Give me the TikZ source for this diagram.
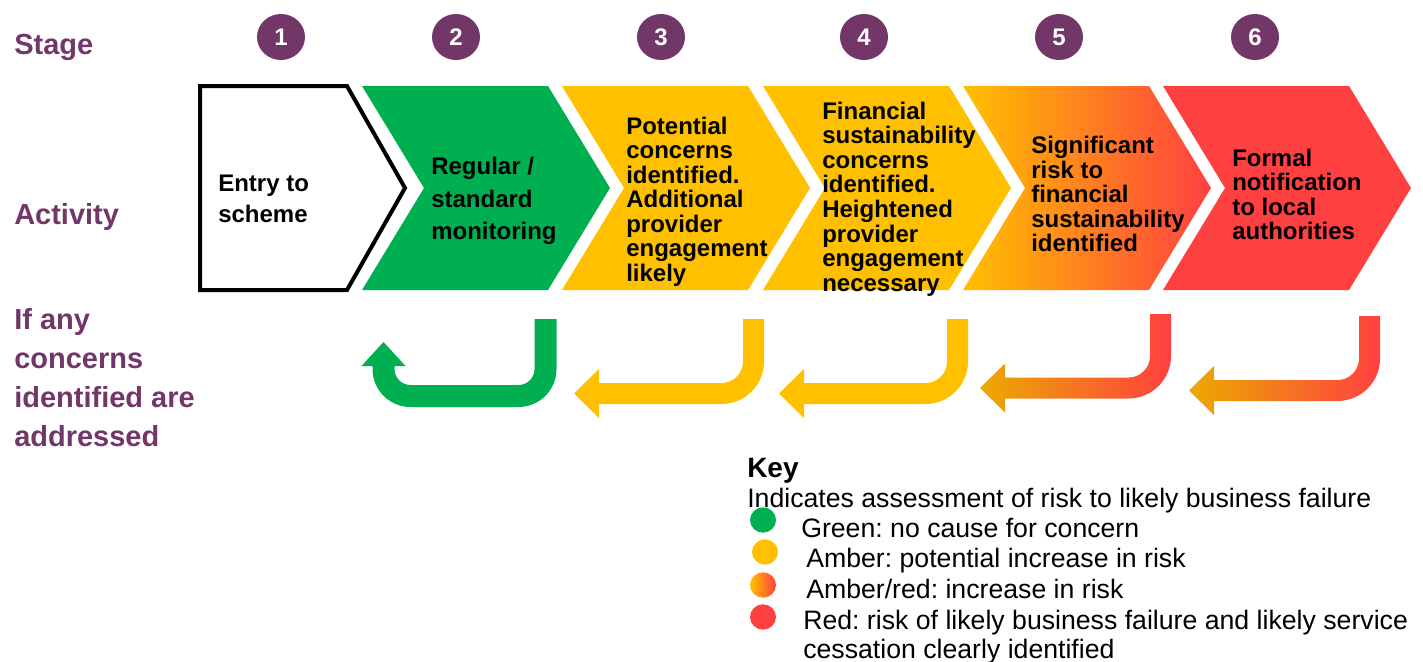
\documentclass[tikz,border=0pt]{standalone}
\usepackage{fontspec}
\setmainfont{Liberation Sans}
\usepackage{tikz}
\usetikzlibrary{shapes.geometric}
\frenchspacing

\definecolor{stagepurple}{RGB}{114,54,105}
\definecolor{riskgreen}{RGB}{0,176,80}
\definecolor{riskamber}{RGB}{255,192,0}
\definecolor{riskgold}{RGB}{236,170,0}
\definecolor{riskred}{RGB}{255,64,64}

\tikzset{
  rowlabel/.style={anchor=west, align=left, inner sep=0pt, text=stagepurple,
    font=\fontsize{21.75}{29.25}\selectfont\bfseries},
  stagedot/.style={ellipse, fill=stagepurple, text=white, inner sep=0pt,
    minimum width=36pt, minimum height=34.5pt, font=\fontsize{18}{18}\selectfont\bfseries},
  activity/.style={anchor=west, align=left, inner sep=0pt,
    font=\fontsize{18}{18.4}\selectfont\bfseries},
  keydot/.style={ellipse, inner sep=0pt, minimum width=19.5pt, minimum height=19pt},
  keytext/.style={anchor=base west, inner sep=0pt, font=\fontsize{20}{22.5}\selectfont},
}

% one arrow-shaped step of the process, #1 = left edge
\newcommand{\chevron}[2]{%
  \path[#2] (#1,86) -- ++(186,0) -- ++(62,102) -- ++(-62,102) -- ++(-186,0) -- ++(62,-102) -- cycle;}

% bent arrow going back one step: #1 riser x, #2 top, #3 shaft y, #4 tip x, #5 fill
\newcommand{\backarrow}[5]{%
  \pgfmathsetmacro{\ax}{#1+10.5}%
  \pgfmathsetmacro{\bx}{#1-10.5}%
  \pgfmathsetmacro{\cy}{#3-32}%
  \pgfmathsetmacro{\cx}{#1-32}%
  \pgfmathsetmacro{\oy}{#3+10.5}%
  \pgfmathsetmacro{\iy}{#3-10.5}%
  \pgfmathsetmacro{\hx}{#4+25}%
  \path[#5] (\ax,#2) -- (\ax,\cy)
    .. controls (\ax,\cy+23.5) and (\cx+23.5,\oy) .. (\cx,\oy)
    -- (\hx,\oy) -- (\hx,#3+24.5) -- (#4,#3) -- (\hx,#3-24.5) -- (\hx,\iy)
    -- (\cx,\iy) .. controls (\cx+11.9,\iy) and (\bx,\cy+11.9) .. (\bx,\cy)
    -- (\bx,#2) -- cycle;}

\begin{document}
\begin{tikzpicture}[x=0.75pt, y=-0.75pt]
\useasboundingbox (0,0) rectangle (1423,661);

\node[rowlabel] (stage) at (14,47) {Stage};
\node[rowlabel] (activity) at (14,217) {Activity};
\node[rowlabel] (addressed) at (14,378) {If any\\concerns\\identified are\\addressed};

\foreach \n/\x in {1/281,2/456,3/661,4/864,5/1059,6/1255}
  \node[stagedot] (s\n) at (\x,37) {\n};

\draw[line width=3pt, line join=miter] (200,86) -- (347,86) -- (405,188) -- (347,290) -- (200,290) -- cycle;
\chevron{362}{fill=riskgreen}
\chevron{562}{fill=riskamber}
\chevron{763}{fill=riskamber}
\chevron{963}{left color=riskamber, right color=riskred}
\chevron{1163}{fill=riskred}

\node[activity] (a1) at (218,198.5) {Entry to\\[5pt]scheme};
\node[activity] (a2) at (431,201) {Regular /\\[6pt]standard\\[6pt]monitoring};
\node[activity] (a3) at (626,201.5) {Potential\\concerns\\identified.\\Additional\\provider\\engagement\\likely};
\node[activity] (a4) at (822,199) {Financial\\sustainability\\concerns\\identified.\\Heightened\\provider\\engagement\\necessary};
\node[activity] (a5) at (1031,194) {Significant\\risk to\\financial\\sustainability\\identified};
\node[activity] (a6) at (1232,194.5) {Formal\\notification\\to local\\authorities};

% back arrows under the steps
\path[fill=riskgreen] (556.5,319) -- (556.5,369)
  .. controls (556.5,390) and (539.5,407) .. (518.5,407) -- (410.5,407)
  .. controls (389.5,407) and (372.5,390) .. (372.5,369) -- (372.5,366)
  -- (361.5,366) -- (383.5,342) -- (405.5,366) -- (394.5,366) -- (394.5,369)
  .. controls (394.5,377.8) and (401.7,385) .. (410.5,385) -- (518.5,385)
  .. controls (527.3,385) and (534.5,377.8) .. (534.5,369) -- (534.5,319) -- cycle;
\backarrow{753.5}{319}{393.5}{574}{fill=riskamber}
\backarrow{957.5}{319}{393.5}{779}{fill=riskamber}
\backarrow{1160.5}{314}{388}{980}{left color=riskgold, right color=riskred}
\backarrow{1369.5}{316}{390.5}{1189}{left color=riskgold, right color=riskred}

% key
\node[anchor=base west, inner sep=0pt, font=\fontsize{21}{21}\selectfont\bfseries] (keytitle) at (747,477) {Key};
\node[keytext] (keyintro) at (747,507) {Indicates assessment of risk to likely business failure};
\node[keydot, fill=riskgreen] (kd1) at (763,520) {};
\node[keydot, fill=riskamber] (kd2) at (765,552) {};
\node[keydot, left color=riskamber, right color=riskred] (kd3) at (763,585) {};
\node[keydot, fill=riskred] (kd4) at (763,617) {};
\node[keytext] (k1) at (801,537) {Green: no cause for concern};
\node[keytext] (k2) at (806,567) {Amber: potential increase in risk};
\node[keytext] (k3) at (806,598) {Amber/red: increase in risk};
\node[keytext, anchor=north west, align=left, font=\fontsize{20}{22}\selectfont] (k4) at (803,610) {Red: risk of likely business failure and likely service\\cessation clearly identified};
\end{tikzpicture}
\end{document}
